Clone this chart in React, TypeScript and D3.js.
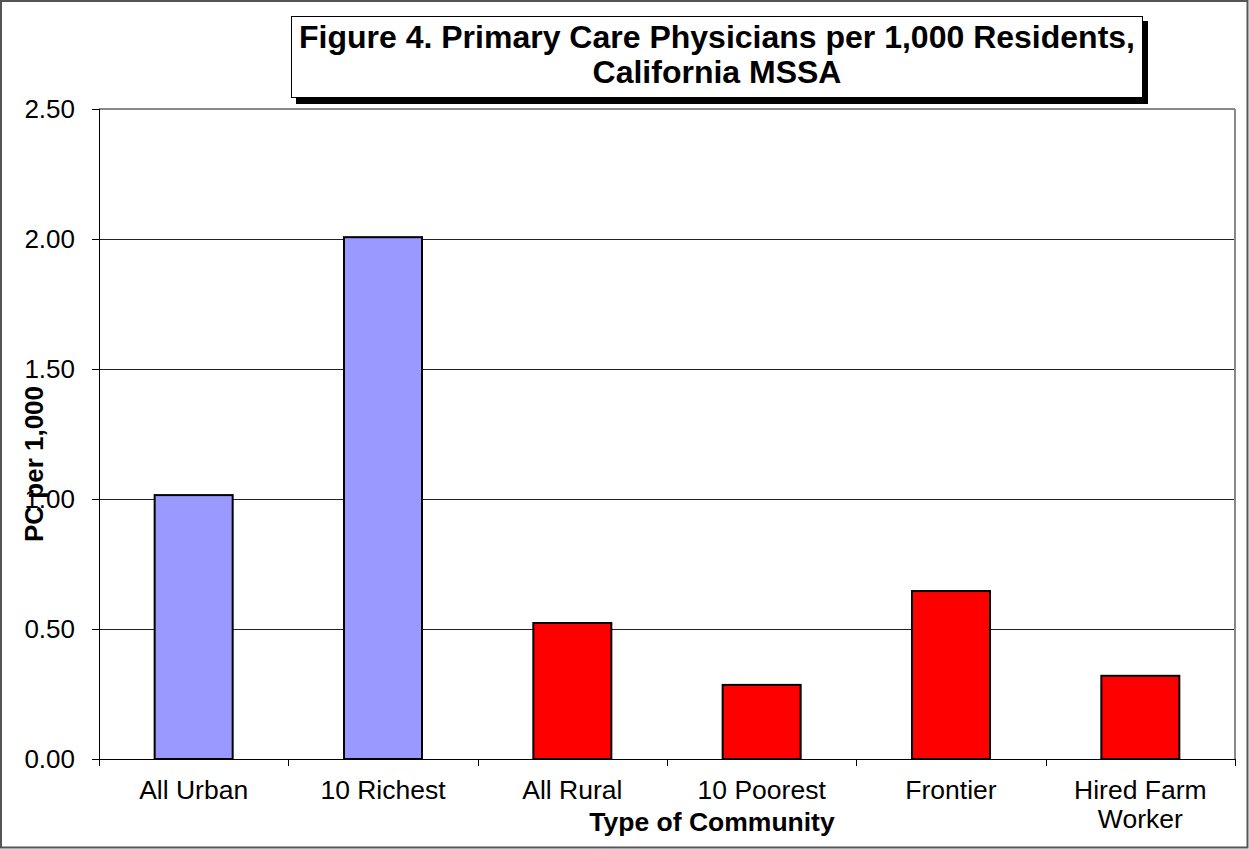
import React from "react";
import * as d3 from "d3";

const categories: string[][] = [
  ["All Urban"],
  ["10 Richest"],
  ["All Rural"],
  ["10 Poorest"],
  ["Frontier"],
  ["Hired Farm", "Worker"],
];
const values: number[] = [1.015, 2.007, 0.523, 0.285, 0.646, 0.32];
const colors: string[] = ["#9999FF", "#9999FF", "#FF0000", "#FF0000", "#FF0000", "#FF0000"];
const yTicks: number[] = [0, 0.5, 1.0, 1.5, 2.0, 2.5];
const titleLines: string[] = ["Figure 4. Primary Care Physicians per 1,000 Residents,", "California MSSA"];
const xTitle = "Type of Community";
const yTitle = "PC per 1,000";

const W = 1249;
const H = 849;
const plot = { left: 99, right: 1235, top: 109, bottom: 759 };

export default function App() {
  const keys = categories.map((c) => c.join(" "));
  const x = d3
    .scaleBand<string>()
    .domain(keys)
    .range([plot.left, plot.right])
    .paddingInner(0.588)
    .paddingOuter(0.294);
  const y = d3.scaleLinear().domain([0, 2.5]).range([plot.bottom, plot.top]);
  const step = (plot.right - plot.left) / categories.length;
  const font = "'Liberation Sans', Arial, sans-serif";

  return (
    <svg
      width={W}
      height={H}
      style={{ position: "absolute", left: 0, top: 0, display: "block" }}
      fontFamily={font}
    >
      <rect x={0} y={0} width={W} height={H} fill="#fff" />
      <rect x={1} y={1} width={W - 2.5} height={H - 2.5} fill="none" stroke="#555" strokeWidth={2} />

      {/* gridlines */}
      {yTicks.slice(1, -1).map((t) => (
        <line
          key={"g" + t}
          x1={plot.left}
          x2={plot.right}
          y1={Math.round(y(t)) + 0.5}
          y2={Math.round(y(t)) + 0.5}
          stroke="#222"
          strokeWidth={1}
        />
      ))}
      {/* plot border top & right */}
      <line x1={plot.left} x2={plot.right} y1={plot.top} y2={plot.top} stroke="#888" strokeWidth={2} />
      <line x1={plot.right} x2={plot.right} y1={plot.top} y2={plot.bottom} stroke="#888" strokeWidth={2} />

      {/* bars */}
      {values.map((v, i) => (
        <rect
          key={"b" + i}
          x={x(keys[i]) as number}
          y={y(v)}
          width={x.bandwidth()}
          height={y(0) - y(v)}
          fill={colors[i]}
          stroke="#000"
          strokeWidth={2}
        />
      ))}

      {/* axes */}
      <line x1={plot.left + 0.5} x2={plot.left + 0.5} y1={plot.top} y2={plot.bottom} stroke="#000" strokeWidth={1} />
      <line x1={plot.left} x2={plot.right} y1={plot.bottom + 0.5} y2={plot.bottom + 0.5} stroke="#000" strokeWidth={1} />
      {yTicks.map((t) => (
        <g key={"yt" + t}>
          <line
            x1={plot.left - 7}
            x2={plot.left}
            y1={Math.round(y(t)) + 0.5}
            y2={Math.round(y(t)) + 0.5}
            stroke="#000"
          />
          <text x={75} y={y(t) + 9} textAnchor="end" fontSize={26} fill="#000">
            {t.toFixed(2)}
          </text>
        </g>
      ))}
      {d3.range(categories.length + 1).map((i) => (
        <line
          key={"xt" + i}
          x1={Math.round(plot.left + i * step) + 0.5}
          x2={Math.round(plot.left + i * step) + 0.5}
          y1={plot.bottom}
          y2={plot.bottom + 7}
          stroke="#000"
        />
      ))}
      {categories.map((lines, i) => (
        <text
          key={"xl" + i}
          x={(x(keys[i]) as number) + x.bandwidth() / 2}
          y={799}
          textAnchor="middle"
          fontSize={26.5}
          fill="#000"
        >
          {lines.map((l, j) => (
            <tspan key={j} x={(x(keys[i]) as number) + x.bandwidth() / 2} dy={j === 0 ? 0 : 29}>
              {l}
            </tspan>
          ))}
        </text>
      ))}

      <text x={712} y={831} textAnchor="middle" fontSize={26.5} fontWeight="bold" fill="#000">
        {xTitle}
      </text>
      <text
        transform={`translate(43,464) rotate(-90)`}
        textAnchor="middle"
        fontSize={26}
        fontWeight="bold"
        fill="#000"
      >
        {yTitle}
      </text>

      {/* title box */}
      <rect x={296} y={21} width={852} height={83} fill="#000" />
      <rect x={291.5} y={16.5} width={851} height={81} fill="#fff" stroke="#000" strokeWidth={1} />
      <text x={717} y={48} textAnchor="middle" fontSize={32} fontWeight="bold" fill="#000">
        {titleLines[0]}
      </text>
      <text x={717} y={83} textAnchor="middle" fontSize={32} fontWeight="bold" fill="#000">
        {titleLines[1]}
      </text>
    </svg>
  );
}
